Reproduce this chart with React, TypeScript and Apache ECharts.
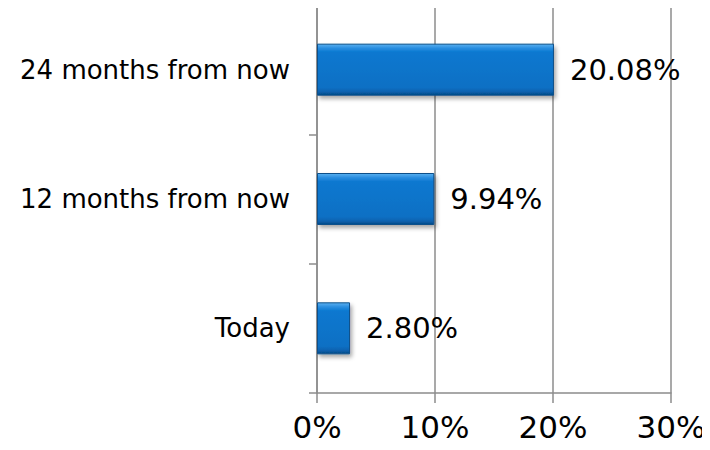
import React, { useEffect, useRef } from "react";
import * as echarts from "echarts";

const categories = ["Today", "12 months from now", "24 months from now"];
const values = [2.8, 9.94, 20.08];
const valueLabels = ["2.80%", "9.94%", "20.08%"];
const axisMin = 0;
const axisMax = 30;
const axisInterval = 10;

export default function App() {
  const ref = useRef<HTMLDivElement>(null);
  useEffect(() => {
    if (!ref.current) return;
    const chart = echarts.init(ref.current, null, { renderer: "svg" });
    const font = "'DejaVu Sans', Verdana, sans-serif";
    chart.setOption({
      animation: false,
      backgroundColor: "#ffffff",
      grid: { left: 317, right: 39, top: 5, bottom: 57, containLabel: false },
      xAxis: {
        type: "value",
        min: axisMin,
        max: axisMax,
        interval: axisInterval,
        axisLine: { show: true, lineStyle: { color: "#8c8c8c", width: 1.5 } },
        axisTick: { show: true, length: 10, lineStyle: { color: "#8c8c8c", width: 1.5 } },
        splitLine: { show: true, lineStyle: { color: "#8c8c8c", width: 1.5 } },
        axisLabel: {
          formatter: (v: number) => v + "%",
          fontFamily: font,
          fontSize: 31,
          lineHeight: 31,
          color: "#000",
          margin: 18,
        },
      },
      yAxis: {
        type: "category",
        data: categories,
        axisLine: { show: true, lineStyle: { color: "#8c8c8c", width: 1.5 } },
        axisTick: { show: true, length: 8, lineStyle: { color: "#8c8c8c", width: 1.5 } },
        splitLine: { show: false },
        axisLabel: {
          fontFamily: font,
          fontSize: 26,
          color: "#000",
          margin: 27,
        },
      },
      series: [
        {
          type: "bar",
          data: values,
          barWidth: 52,
          itemStyle: {
            color: new echarts.graphic.LinearGradient(0, 0, 0, 1, [
              { offset: 0, color: "#5ab0f0" },
              { offset: 0.08, color: "#2a8ee0" },
              { offset: 0.16, color: "#0a78d0" },
              { offset: 0.85, color: "#0870c4" },
              { offset: 0.93, color: "#0862b0" },
              { offset: 1, color: "#054a86" },
            ]),
            borderColor: "#0b4f8a",
            borderWidth: 1,
            shadowColor: "rgba(0,0,0,0.35)",
            shadowBlur: 4,
            shadowOffsetX: 2,
            shadowOffsetY: 3,
          },
          label: {
            show: true,
            position: "right",
            distance: 16,
            fontFamily: font,
            fontSize: 29,
            color: "#000",
            formatter: (p: any) => valueLabels[p.dataIndex],
          },
        },
      ],
    });
    return () => chart.dispose();
  }, []);
  return <div ref={ref} style={{ width: 710, height: 450, marginLeft: -8, marginTop: -8 }} />;
}
